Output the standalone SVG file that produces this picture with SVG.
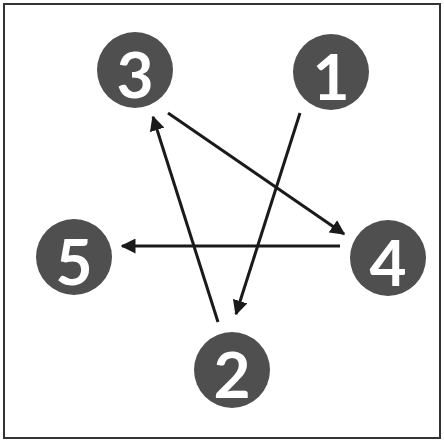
<svg xmlns="http://www.w3.org/2000/svg" width="444" height="442" viewBox="0 0 444 442">
<style>
.node circle{fill:#4f4f4f;}
.node text{fill:#fff;font-family:Lato,"Liberation Sans",sans-serif;font-weight:bold;font-size:64px;text-anchor:middle;dominant-baseline:central;}
.edge{stroke:#1a1a1a;stroke-width:3;fill:none;marker-end:url(#ah);}
</style>
<defs>
<marker id="ah" viewBox="0 0 10 10" refX="9" refY="5" markerWidth="5" markerHeight="5" orient="auto" markerUnits="strokeWidth">
<path d="M0,0 L10,5 L0,10 z" fill="#1a1a1a"/>
</marker>
</defs>
<rect x="0" y="0" width="444" height="442" fill="#fff"/>
<rect x="4" y="4" width="436" height="434" fill="none" stroke="#333" stroke-width="2"/>
<g id="connectors">
<line class="edge" x1="168" y1="113" x2="344" y2="234"/>
<line class="edge" x1="300" y1="113" x2="236" y2="314"/>
<line class="edge" x1="340" y1="246" x2="122" y2="246"/>
<line class="edge" x1="218" y1="322" x2="153" y2="117"/>
</g>
<g id="node3" class="node"><circle cx="135" cy="70" r="38"/><text x="135" y="73">3</text></g>
<g id="node1" class="node"><circle cx="331" cy="72" r="38"/><text x="331" y="75">1</text></g>
<g id="node5" class="node"><circle cx="74" cy="257" r="38"/><text x="74" y="260">5</text></g>
<g id="node4" class="node"><circle cx="388" cy="258" r="38"/><text x="388" y="261">4</text></g>
<g id="node2" class="node"><circle cx="232" cy="370" r="38"/><text x="232" y="373">2</text></g>
</svg>
